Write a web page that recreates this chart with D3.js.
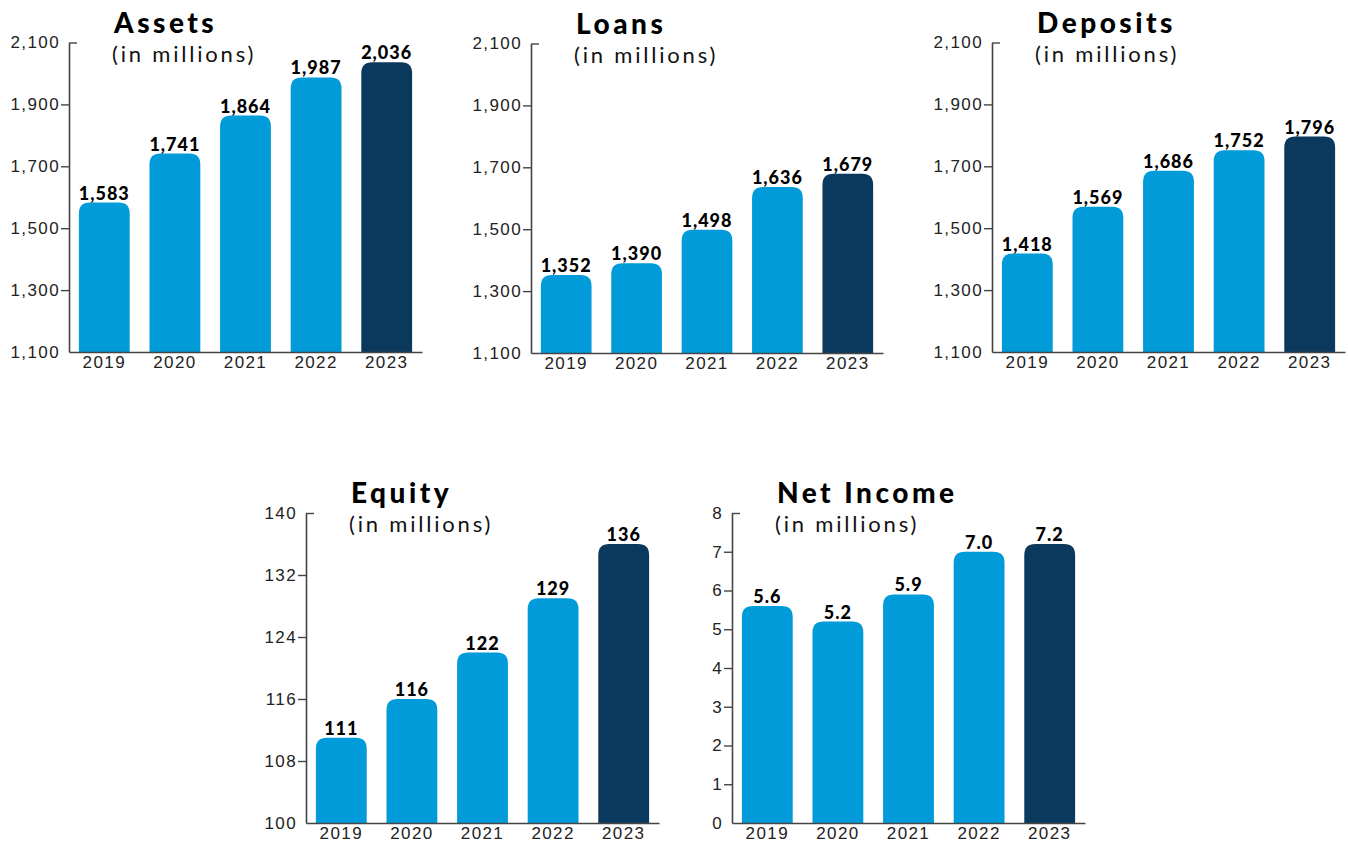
<!DOCTYPE html>
<html>
<head>
<meta charset="utf-8">
<script src="https://cdn.jsdelivr.net/npm/d3@7"></script>
<style>
  body { margin: 0; background: #fff; }
  svg { display: block; font-family: Lato, "Open Sans", sans-serif; }
</style>
</head>
<body>
<svg width="1348" height="842"></svg>
<script>
// data
const years = ["2019", "2020", "2021", "2022", "2023"];

const assets = [1583, 1741, 1864, 1987, 2036];
const loans = [1352, 1390, 1498, 1636, 1679];
const deposits = [1418, 1569, 1686, 1752, 1796];
const equity = [111, 116, 122, 129, 136];
const netIncome = [5.6, 5.2, 5.9, 7.0, 7.2];

const bigTicks = [1100, 1300, 1500, 1700, 1900, 2100];
const equityTicks = [100, 108, 116, 124, 132, 140];
const incomeTicks = [0, 1, 2, 3, 4, 5, 6, 7, 8];

// colours
const lightBlue = "#009bd8";
const navy = "#0b395d";
const axisColor = "#444";

// panels: x0/x1 = x range, top/bottom = y range
const panels = [
    {title: "Assets", values: assets, domain: [1100, 2100], ticks: bigTicks,
     fmt: d3.format(","), tickFmt: d3.format(","),
     x0: 69, x1: 422, top: 42.5, bottom: 352},
    {title: "Loans", values: loans, domain: [1100, 2100], ticks: bigTicks,
     fmt: d3.format(","), tickFmt: d3.format(","),
     x0: 531, x1: 883, top: 43.5, bottom: 353},
    {title: "Deposits", values: deposits, domain: [1100, 2100], ticks: bigTicks,
     fmt: d3.format(","), tickFmt: d3.format(","),
     x0: 992, x1: 1345, top: 42.5, bottom: 352},
    {title: "Equity", values: equity, domain: [100, 140], ticks: equityTicks,
     fmt: d3.format("d"), tickFmt: d3.format("d"),
     x0: 306, x1: 659, top: 513, bottom: 823},
    {title: "Net Income", values: netIncome, domain: [0, 8], ticks: incomeTicks,
     fmt: d3.format(".1f"), tickFmt: d3.format("d"),
     x0: 732, x1: 1085, top: 513, bottom: 823}
];

// bar path with rounded top corners
function barPath(x, y, w, h, r) {
    r = Math.min(r, h, w / 2);
    return "M" + x + "," + (y + h) +
        "V" + (y + r) +
        "Q" + x + "," + y + " " + (x + r) + "," + y +
        "H" + (x + w - r) +
        "Q" + (x + w) + "," + y + " " + (x + w) + "," + (y + r) +
        "V" + (y + h) + "Z";
}

const svg = d3.select("svg");

panels.forEach(function(p) {
    let g = svg.append("g");

    let xScale = d3.scaleBand()
        .domain(years)
        .range([p.x0, p.x1])
        .paddingInner(0.28)
        .paddingOuter(0.14);

    let yScale = d3.scaleLinear()
        .domain(p.domain)
        .range([p.bottom, p.top]);

    //bars
    g.selectAll(".bar")
        .data(p.values)
        .join("path")
        .attr("class", "bar")
        .attr("fill", (d, i) => i === years.length - 1 ? navy : lightBlue)
        .attr("d", (d, i) => barPath(xScale(years[i]), yScale(d),
            xScale.bandwidth(), p.bottom - yScale(d), 11));

    //value labels
    g.selectAll(".val")
        .data(p.values)
        .join("text")
        .attr("class", "val")
        .attr("x", (d, i) => xScale(years[i]) + xScale.bandwidth() / 2)
        .attr("y", d => yScale(d) - 3)
        .attr("text-anchor", "middle")
        .style("font-size", "18px")
        .style("font-weight", 900)
        .style("letter-spacing", "1px")
        .attr("fill", "#000")
        .text(d => p.fmt(d));

    //y axis
    let yAxis = d3.axisLeft(yScale)
        .tickValues(p.ticks)
        .tickFormat(p.tickFmt)
        .tickSize(8)
        .tickPadding(1)
        .tickSizeOuter(0);

    let ya = g.append("g")
        .attr("transform", "translate(" + p.x0 + ",0)")
        .call(yAxis);
    ya.select(".domain").attr("stroke", axisColor).attr("stroke-width", 1.6);
    ya.selectAll(".tick line").attr("stroke", axisColor).attr("stroke-width", 1.4);
    ya.selectAll(".tick text")
        .attr("fill", "#222")
        .style("font-size", "17px")
        .style("letter-spacing", "1.4px");
    // top tick points right, bottom tick hidden under the x axis
    ya.selectAll(".tick line")
        .filter(d => d === p.domain[1])
        .attr("x2", 8);
    ya.selectAll(".tick line")
        .filter(d => d === p.domain[0])
        .remove();

    //x axis
    let xAxis = d3.axisBottom(xScale)
        .tickSize(0)
        .tickPadding(3)
        .tickSizeOuter(0);

    let xa = g.append("g")
        .attr("transform", "translate(0," + p.bottom + ")")
        .call(xAxis);
    xa.select(".domain").attr("stroke", axisColor).attr("stroke-width", 1.6);
    xa.selectAll(".tick text")
        .attr("fill", "#222")
        .attr("dy", "0.75em")
        .style("font-size", "17px")
        .style("letter-spacing", "1.4px");

    //title
    g.append("text")
        .attr("x", p.x0 + 45)
        .attr("y", p.top - 10)
        .style("font-size", "28px")
        .style("font-weight", 900)
        .style("letter-spacing", "3.5px")
        .attr("fill", "#000")
        .text(p.title);

    g.append("text")
        .attr("x", p.x0 + 43)
        .attr("y", p.top + 19)
        .style("font-size", "22px")
        .style("letter-spacing", "2.8px")
        .attr("fill", "#111")
        .text("(in millions)");
});
</script>
</body>
</html>
